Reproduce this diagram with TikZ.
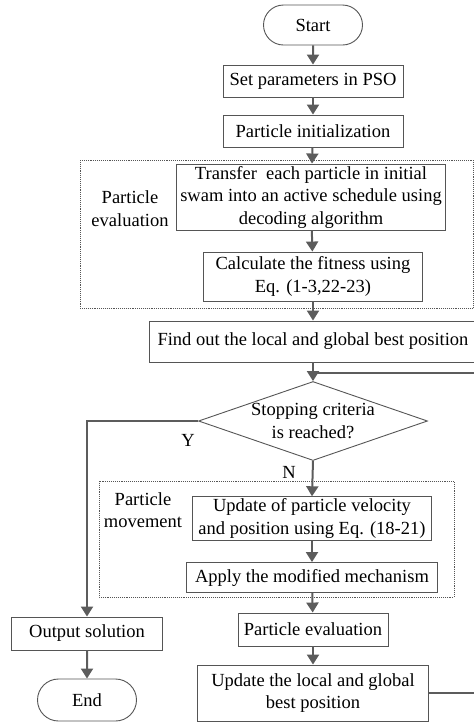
\documentclass[tikz,border=0pt]{standalone}
\usepackage{fontspec}
\setmainfont{Liberation Serif}
\usetikzlibrary{arrows.meta, positioning, shapes.geometric, shapes.misc}
\definecolor{lgray}{HTML}{5C5C5C}
\definecolor{bgray}{HTML}{555555}
\tikzset{
  >={Triangle[length=10pt,width=12pt]},
  font=\fontsize{18.5}{22.5}\selectfont,
  box/.style={
    draw=bgray, line width=0.9pt, align=center, inner sep=2pt,
    minimum width=#1, minimum height=32pt
  },
  box/.default=180pt,
  term/.style={
    rounded rectangle, draw=bgray, line width=0.9pt, inner sep=2pt
  },
  decision/.style={
    diamond, draw=bgray, line width=0.9pt, inner sep=0pt,
    minimum width=229pt, minimum height=79pt
  },
  group/.style={draw=bgray, line width=0.9pt, densely dotted},
  flow/.style={->, line width=2pt, draw=lgray},
  loopline/.style={line width=2pt, draw=lgray}
}
\begin{document}
\begin{tikzpicture}[x=1pt,y=-1pt]
  \useasboundingbox (0,0) rectangle (474,724);
  % main column
  \node[term, minimum width=103pt, minimum height=40pt] (start) at (313,25) {Start};
  \node[box] (setp) at (313,81) {Set parameters in PSO};
  \node[box] (init) at (313,131) {Particle initialization};
  \node[box=269pt, minimum height=66pt] (transfer) at (311,197) {Transfer\ \ each particle in initial\\swam into an active schedule using\\decoding algorithm};
  \node[box=219pt, minimum height=49pt] (calc) at (313,276.5) {Calculate the fitness using\\Eq. (1-3,22-23)};
  \node[box=327pt, minimum height=41pt] (best) at (313,341.5) {Find out the local and global best position};
  \node[decision] (stop) at (313,421) {};
  \node[align=center] (stoptxt) at (stop.center) {Stopping criteria\\is reached?};
  \node[box=239pt, minimum height=43pt] (velo) at (312,518.5) {Update of particle velocity\\and position using Eq. (18-21)};
  \node[box=251pt, minimum height=30pt] (mech) at (312,577.5) {Apply the modified mechanism};
  \node[box=150pt, minimum height=33pt] (peval) at (313,629.5) {Particle evaluation};
  \node[box=231pt, minimum height=56pt] (upd) at (313,693) {Update the local and global\\best position};
  % exit branch
  \node[box=151pt, minimum height=33pt] (out) at (87,633.5) {Output solution};
  \node[term, minimum width=103pt, minimum height=42pt] (end) at (87,700) {End};

  % dotted groups and their labels
  \draw[group] (80,160) rectangle (473,308);
  \draw[group] (99,481) rectangle (454,597);
  \node[align=center] (evallab) at (130,208.5) {Particle\\evaluation};
  \node[align=center] (movelab) at (143,510) {Particle\\movement};

  % connectors
  \draw[flow] (start) -- (setp);
  \draw[flow] (setp) -- (init);
  \draw[flow] (init) -- (transfer);
  \draw[flow] (transfer) -- (calc);
  \draw[flow] (calc) -- (best);
  \draw[flow] (best) -- (stop.north);
  \draw[flow] (stop.south) -- (velo.north);
  \draw[flow] (velo) -- (mech);
  \draw[flow] (mech) -- (peval);
  \draw[flow] (peval) -- (upd);
  \draw[flow] (stop.west) -| (out.north);
  \draw[flow] (out) -- (end);
  % loop back (its right side runs past the page edge)
  \coordinate (join) at (313,373);
  \coordinate (loopa) at (479,693);
  \coordinate (loopb) at (479,373);
  \draw[loopline] (upd.east) -- (loopa) -- (loopb) -- (join);
  \node (ylab) at (188,440) {Y};
  \node (nlab) at (289,472) {N};
\end{tikzpicture}
\end{document}
